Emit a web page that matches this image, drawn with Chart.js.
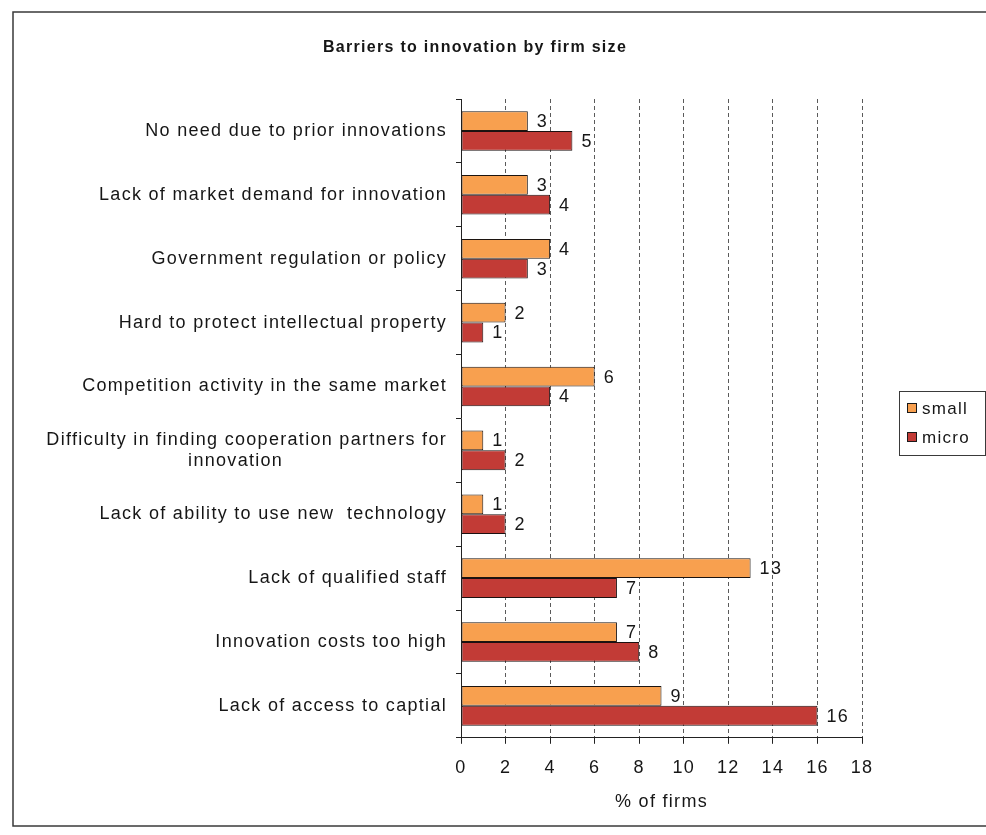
<!DOCTYPE html>
<html>
<head>
<meta charset="utf-8">
<script src="https://cdn.jsdelivr.net/npm/chart.js@4"></script>
<style>
  body { margin: 0; background: #fff; }
  #chart { display: block; }
</style>
</head>
<body>
<canvas id="chart" width="986" height="835"></canvas>
<script>
// categories, top to bottom
const barriers = [
    'No need due to prior innovations',
    'Lack of market demand for innovation',
    'Government regulation or policy',
    'Hard to protect intellectual property',
    'Competition activity in the same market',
    ['Difficulty in finding cooperation partners for', 'innovation                          '],
    'Lack of ability to use new  technology',
    'Lack of qualified staff',
    'Innovation costs too high',
    'Lack of access to captial'
];

const smallFirms = [3, 3, 4, 2, 6, 1, 1, 13, 7, 9];
const microFirms = [5, 4, 3, 1, 4, 2, 2, 7, 8, 16];

const xTicksMax = 18;
const xTicksStep = 2;

const chartTitle = 'Barriers to innovation by firm size';

const FONT = "'Liberation Sans', Arial, sans-serif";
const TEXT = '#161616';

// scanned look: text is a bit spread out
function spread(ctx) {
    if ('letterSpacing' in ctx) ctx.letterSpacing = '1.3px';
}

const frameAndText = {
    id: 'frameAndText',
    beforeUpdate(chart) { spread(chart.ctx); },
    beforeDraw(chart) {
        const ctx = chart.ctx;
        spread(ctx);
        ctx.save();
        ctx.fillStyle = '#fff';
        ctx.fillRect(0, 0, chart.width, chart.height);
        ctx.strokeStyle = '#3a3a3a';
        ctx.lineWidth = 1.5;
        ctx.strokeRect(13, 12, 1000, 814);
        ctx.restore();
    },
    afterDatasetsDraw(chart) {
        const ctx = chart.ctx;
        ctx.save();
        ctx.font = '18px ' + FONT;
        ctx.fillStyle = TEXT;
        ctx.textBaseline = 'middle';
        ctx.textAlign = 'left';
        chart.data.datasets.forEach((ds, i) => {
            chart.getDatasetMeta(i).data.forEach((bar, j) => {
                ctx.fillText(String(ds.data[j]), bar.x + 9, bar.y + 1);
            });
        });
        ctx.restore();
    },
    afterDraw(chart) {
        const ctx = chart.ctx;
        ctx.save();
        // title, centred a bit left of the canvas middle as in the original
        ctx.font = 'bold 16px ' + FONT;
        ctx.fillStyle = TEXT;
        ctx.textAlign = 'center';
        ctx.textBaseline = 'middle';
        ctx.fillText(chartTitle, 475, 48);

        // legend box on the right
        ctx.textAlign = 'left';
        ctx.strokeStyle = '#3a3a3a';
        ctx.lineWidth = 1;
        ctx.strokeRect(899.5, 391.5, 86, 64);
        ctx.font = '17px ' + FONT;
        chart.data.datasets.forEach((ds, i) => {
            const y = 408 + i * 29;
            ctx.fillStyle = ds.backgroundColor;
            ctx.fillRect(907, y - 5, 10, 10);
            ctx.strokeStyle = '#1a1a1a';
            ctx.strokeRect(907.5, y - 4.5, 9, 9);
            ctx.fillStyle = TEXT;
            ctx.fillText(ds.label, 922, y + 1);
        });
        ctx.restore();
    }
};

new Chart(document.getElementById('chart'), {
    type: 'bar',
    data: {
        labels: barriers,
        datasets: [
            {
                label: 'small',
                data: smallFirms,
                backgroundColor: '#F8A04F',
                borderColor: '#1c1410',
                borderWidth: 1,
                borderSkipped: false,
                categoryPercentage: 0.62,
                barPercentage: 1
            },
            {
                label: 'micro',
                data: microFirms,
                backgroundColor: '#C23B36',
                borderColor: '#1c1010',
                borderWidth: 1,
                borderSkipped: false,
                categoryPercentage: 0.62,
                barPercentage: 1
            }
        ]
    },
    options: {
        indexAxis: 'y',
        responsive: false,
        animation: false,
        devicePixelRatio: 1,
        layout: { padding: { left: 0, right: 124, top: 99, bottom: 21 } },
        plugins: {
            legend: { display: false },
            tooltip: { enabled: false },
            title: { display: false }
        },
        scales: {
            x: {
                min: 0,
                max: xTicksMax,
                ticks: {
                    stepSize: xTicksStep,
                    color: TEXT,
                    font: { family: FONT, size: 18 },
                    padding: 13
                },
                grid: {
                    color: '#5a5a5a',
                    lineWidth: 1,
                    tickLength: 6,
                    tickColor: '#222'
                },
                border: { display: true, color: '#222', width: 1, dash: [4, 3] },
                title: {
                    display: true,
                    text: '% of firms',
                    color: TEXT,
                    font: { family: FONT, size: 18 },
                    padding: { top: 0, bottom: 1 }
                }
            },
            y: {
                ticks: {
                    color: TEXT,
                    font: { family: FONT, size: 18 },
                    padding: 9,
                    autoSkip: false
                },
                grid: {
                    display: true,
                    drawOnChartArea: false,
                    tickLength: 5,
                    color: '#222'
                },
                border: { display: true, color: '#222', width: 1 },
                afterFit(scale) { scale.width = 461; }
            }
        }
    },
    plugins: [frameAndText]
});
</script>
</body>
</html>
